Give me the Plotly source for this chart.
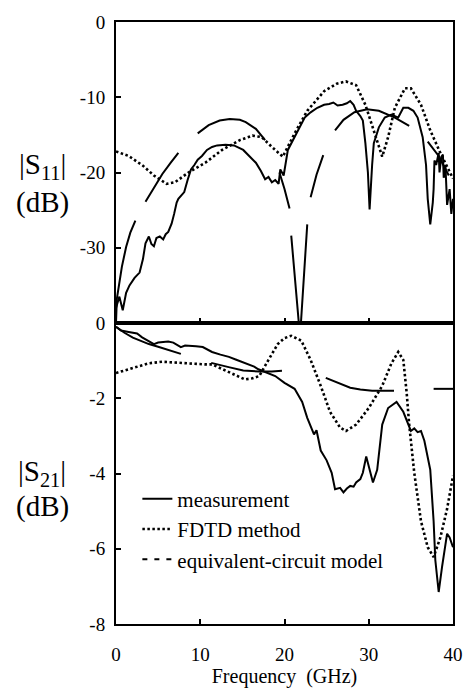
import plotly.graph_objects as go
from plotly.subplots import make_subplots

# ---------------- data ----------------
# |S11| measurement
s11_meas_f = [0.0, 0.4, 0.8, 1.2, 1.6, 2.2, 2.8, 3.2, 3.5, 3.9, 4.2, 4.5, 4.8, 5.2, 5.6, 5.9,
              6.2, 6.6, 6.9, 7.2, 7.4, 8.1, 8.5, 8.9, 9.3, 9.7, 10.2, 10.8, 11.4, 12.0, 13.0,
              14.0, 15.1, 15.8, 16.6, 17.2, 17.7, 18.1, 18.5, 18.9, 19.3, 19.5, 19.9, 20.4,
              21.2, 21.8, 22.4, 23.1, 23.9, 24.7, 25.3, 25.8, 26.3, 26.9, 27.4, 27.8, 28.2,
              28.5, 29.0, 29.3, 29.6, 29.9, 30.1, 30.4, 30.6, 31.2, 31.9, 32.7, 33.5, 34.1,
              34.7, 35.3, 35.8, 36.4, 36.8, 37.0, 37.3, 37.6, 37.7, 37.8, 38.0, 38.3, 38.4,
              38.6, 38.8, 38.9, 39.1, 39.3, 39.6, 39.8, 40.0]
s11_meas_db = [-38.0, -36.5, -38.3, -36.0, -35.0, -34.0, -33.3, -31.5, -29.4, -28.5, -29.5,
               -29.8, -28.7, -28.5, -28.9, -28.2, -27.9, -26.8, -25.5, -24.0, -23.5, -22.6,
               -21.0, -19.6, -19.0, -18.3, -17.8, -17.0, -16.6, -16.4, -16.3, -16.4, -17.0,
               -17.8, -18.7, -19.8, -20.9, -20.6, -21.3, -21.0, -21.5, -19.6, -20.4, -17.0,
               -15.3, -14.0, -12.7, -12.0, -11.4, -11.0, -10.9, -10.7, -11.1, -11.0, -10.8,
               -10.5, -11.0, -11.8, -12.5, -13.1, -16.1, -20.0, -24.9, -19.0, -16.1, -14.0,
               -12.7, -12.3, -12.7, -11.4, -11.4, -11.8, -12.7, -15.3, -19.0, -23.5, -26.9,
               -24.0, -22.2, -18.4, -19.0, -17.4, -20.0, -18.0, -17.6, -20.7, -19.0, -24.3,
               -22.2, -25.5, -23.5]

# |S11| FDTD
s11_fdtd_f = [0.0, 1.5, 3.2, 4.5, 6.0, 7.0, 8.6, 10.6, 12.6, 14.7, 16.2, 17.3, 18.5, 19.8,
              21.2, 22.7, 24.7, 26.2, 27.3, 28.5, 29.6, 30.8, 31.6, 32.3, 33.1, 34.3, 35.0,
              36.2, 37.3, 38.5, 39.6, 40.0]
s11_fdtd_db = [-17.2, -17.8, -19.1, -20.4, -21.5, -21.3, -20.0, -18.7, -17.0, -15.7, -15.1,
               -15.3, -16.6, -17.9, -14.8, -11.8, -9.2, -8.2, -7.9, -8.4, -11.0, -15.3, -17.9,
               -15.3, -11.4, -8.8, -8.8, -11.0, -14.4, -17.4, -20.0, -20.8]

# |S11| equivalent-circuit model (visible dashes, None = gap)
s11_eq_f = [0.0, 0.1, 0.7, 1.2, 1.7, 2.3, None,
            3.5, 4.5, 5.5, 6.5, 7.4, None,
            9.7, 11.0, 12.3, 13.5, 14.7, 15.4, 16.6, 17.7, None,
            19.4, 20.0, 20.6, None,
            20.8, 21.7, 21.95, 22.7, None,
            23.1, 23.8, 24.6, None,
            26.0, 27.0, 28.3, 29.8, 31.2, 33.1, 34.8, None,
            37.0, 38.3, 39.5]
s11_eq_db = [-40.0, -36.8, -32.5, -29.9, -28.0, -26.4, None,
             -23.9, -22.0, -20.2, -18.7, -17.4, None,
             -14.8, -13.7, -13.1, -12.9, -13.0, -13.3, -14.2, -15.7, None,
             -20.0, -22.2, -24.8, None,
             -28.4, -40.0, -40.0, -26.9, None,
             -23.3, -20.3, -17.7, None,
             -14.4, -13.0, -12.0, -11.6, -11.8, -12.7, -13.8, None,
             -15.9, -17.8, -20.4]

# |S21| measurement
s21_meas_f = [0.0, 0.6, 1.5, 2.5, 3.1, 3.7, 4.5, 5.0, 5.6, 6.2, 6.8, 7.3, 7.7, 8.2, 8.8, 9.5,
              10.3, 10.9, 11.4, 12.4, 13.4, 14.2, 14.9, 15.7, 16.4, 16.9, 18.0, 18.9, 20.0,
              21.2, 22.1, 22.7, 23.5, 23.8, 24.3, 25.0, 25.6, 26.0, 26.6, 27.0, 27.4, 27.8,
              28.2, 28.5, 29.0, 29.3, 29.7, 30.1, 30.5, 31.0, 31.2, 31.6, 32.3, 33.3, 34.1,
              34.7, 35.0, 35.4, 35.8, 36.2, 36.6, 37.3, 37.7, 37.9, 38.3, 38.7, 39.3, 39.6,
              40.0]
s21_meas_db = [-0.1, -0.2, -0.24, -0.28, -0.38, -0.46, -0.56, -0.52, -0.51, -0.49, -0.52,
               -0.6, -0.64, -0.6, -0.6, -0.62, -0.64, -0.72, -0.77, -0.84, -0.9, -0.97, -1.03,
               -1.1, -1.16, -1.23, -1.32, -1.41, -1.59, -1.75, -2.1, -2.52, -2.96, -2.85,
               -3.39, -3.65, -3.98, -4.42, -4.38, -4.5, -4.4, -4.33, -4.35, -4.24, -4.15,
               -3.98, -3.55, -3.9, -4.24, -3.9, -3.55, -2.7, -2.26, -2.1, -2.36, -2.7, -2.87,
               -2.8, -2.9, -2.87, -3.13, -3.9, -5.27, -6.3, -7.15, -6.48, -5.6, -5.7, -5.96]

# |S21| FDTD
s21_fdtd_f = [0.0, 2.0, 3.9, 5.5, 7.8, 10.5, 11.4, 12.8, 14.3, 15.3, 16.2, 17.0, 18.1, 19.2,
              20.0, 20.8, 22.0, 23.1, 24.3, 25.4, 26.6, 27.3, 28.5, 30.0, 31.6, 32.7, 33.5,
              34.1, 34.5, 34.8, 35.4, 36.2, 37.0, 37.7, 38.5, 39.3, 40.0]
s21_fdtd_db = [-1.33, -1.2, -1.07, -1.03, -1.07, -1.1, -1.1, -1.24, -1.41, -1.5, -1.47, -1.41,
               -0.98, -0.56, -0.4, -0.34, -0.47, -0.98, -1.67, -2.36, -2.78, -2.87, -2.7,
               -2.26, -1.67, -1.07, -0.77, -0.98, -1.85, -2.7, -3.98, -5.27, -5.96, -6.22,
               -5.7, -4.94, -4.06]

# |S21| equivalent-circuit model (visible dashes, None = gap)
s21_eq_f = [0.0, 1.0, 2.0, 3.0, 3.9, 5.0, 5.8, 7.0, 7.7, None,
            11.3, 12.5, 13.5, 15.1, 17.0, 18.5, 19.7, None,
            24.9, 26.0, 27.0, 27.8, 29.0, 30.4, 33.0, None,
            37.7, 40.0]
s21_eq_db = [-0.1, -0.26, -0.39, -0.48, -0.56, -0.63, -0.69, -0.77, -0.82, None,
             -1.06, -1.13, -1.18, -1.26, -1.29, -1.29, -1.27, None,
             -1.46, -1.56, -1.65, -1.72, -1.77, -1.8, -1.8, None,
             -1.75, -1.75]

x_ticks = [0, 10, 20, 30, 40]
x_tick_text = ["0", "10", "20", "30", "40"]
s11_ticks = [0, -10, -20, -30]
s11_tick_text = ["0", "-10", "-20", "-30"]
s21_ticks = [0, -2, -4, -6, -8]
s21_tick_text = ["0", "-2", "-4", "-6", "-8"]

legend_names = ["measurement", "FDTD method", "equivalent-circuit model"]

# ---------------- figure ----------------
SERIF = "Liberation Serif"
LW = 2
DOT = "2.5px,2.5px"

fig = make_subplots(rows=2, cols=1, shared_xaxes=True, vertical_spacing=0)

fig.add_trace(go.Scatter(x=s11_meas_f, y=s11_meas_db, mode="lines",
                         line=dict(color="black", width=LW), showlegend=False), row=1, col=1)
fig.add_trace(go.Scatter(x=s11_fdtd_f, y=s11_fdtd_db, mode="lines",
                         line=dict(color="black", width=2.6, dash=DOT), showlegend=False), row=1, col=1)
fig.add_trace(go.Scatter(x=s11_eq_f, y=s11_eq_db, mode="lines", connectgaps=False,
                         line=dict(color="black", width=LW), showlegend=False), row=1, col=1)

fig.add_trace(go.Scatter(x=s21_meas_f, y=s21_meas_db, mode="lines", name=legend_names[0],
                         legendrank=1, line=dict(color="black", width=LW)), row=2, col=1)
fig.add_trace(go.Scatter(x=s21_fdtd_f, y=s21_fdtd_db, mode="lines", name=legend_names[1],
                         legendrank=2, line=dict(color="black", width=2.6, dash=DOT)), row=2, col=1)
fig.add_trace(go.Scatter(x=s21_eq_f, y=s21_eq_db, mode="lines", connectgaps=False,
                         line=dict(color="black", width=LW), showlegend=False), row=2, col=1)
# legend entry for the dashed model curve
fig.add_trace(go.Scatter(x=[None], y=[None], mode="lines", name=legend_names[2],
                         legendrank=3, line=dict(color="black", width=LW, dash="5px,7px")),
              row=2, col=1)

axis_common = dict(showline=True, linecolor="black", linewidth=2, mirror=True,
                   ticks="inside", ticklen=5, tickwidth=1.5, tickcolor="black",
                   showgrid=False, zeroline=False,
                   tickfont=dict(family=SERIF, size=19, color="black"))

fig.update_xaxes(range=[0, 40], tickvals=x_ticks, ticktext=x_tick_text, **axis_common)
fig.update_xaxes(showticklabels=False, row=1, col=1)
fig.update_xaxes(row=2, col=1, ticklabelstandoff=12,
                 title=dict(text="Frequency  (GHz)", standoff=4,
                            font=dict(family=SERIF, size=20, color="black")))

fig.update_yaxes(range=[-40, 0], tickvals=s11_ticks, ticktext=s11_tick_text,
                 ticklabelstandoff=5, row=1, col=1, **axis_common)
fig.update_yaxes(range=[-8, 0], tickvals=s21_ticks, ticktext=s21_tick_text,
                 ticklabelstandoff=5, row=2, col=1, **axis_common)

ann_font = dict(family=SERIF, size=29, color="black")
for txt, yv in [("|S<sub>11</sub>|", 164), ("(dB)", 201), ("|S<sub>21</sub>|", 480), ("(dB)", 515)]:
    fig.add_annotation(text=txt, xref="paper", yref="paper", showarrow=False,
                       x=(40 - 116) / 347, y=(636 - yv) / 621, xanchor="center", yanchor="middle",
                       font=ann_font)

fig.update_layout(
    width=475, height=695,
    margin=dict(l=116, r=12, t=15, b=59),
    paper_bgcolor="white", plot_bgcolor="white",
    legend=dict(x=(138 - 116) / 347, y=(636 - 486) / 621, xanchor="left", yanchor="top",
                bgcolor="rgba(0,0,0,0)",
                font=dict(family=SERIF, size=21, color="black")),
)

fig.write_html("out.html")
